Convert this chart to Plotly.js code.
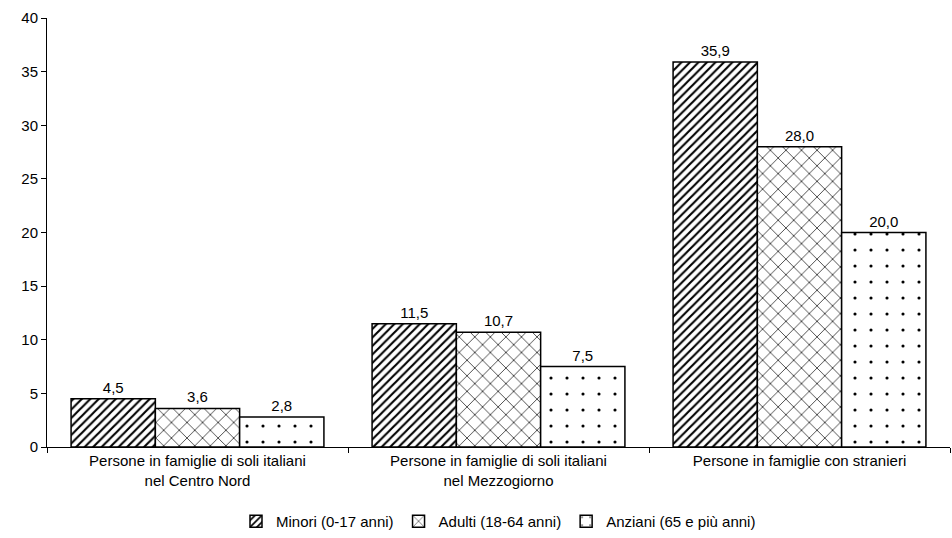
<!DOCTYPE html>
<html>
<head>
<meta charset="utf-8">
<script src="https://cdn.plot.ly/plotly-3.0.1.min.js"></script>
<style>body{margin:0;background:#fff}</style>
</head>
<body>
<div id="chart" style="width:952px;height:538px"></div>
<script>
// Categories and series
let categories = [
    'Persone in famiglie di soli italiani<br>nel Centro Nord',
    'Persone in famiglie di soli italiani<br>nel Mezzogiorno',
    'Persone in famiglie con stranieri'
];
let minori = [4.5, 11.5, 35.9];
let adulti = [3.6, 10.7, 28.0];
let anziani = [2.8, 7.5, 20.0];

let seriesNames = ['Minori (0-17 anni)', 'Adulti (18-64 anni)', 'Anziani (65 e più anni)'];
let seriesValues = [minori, adulti, anziani];
let patterns = [
    { shape: '/', size: 6, solidity: 0.35 },
    { shape: 'x', size: 11, solidity: 0.12 },
    { shape: '.', size: 16, solidity: 0.03 }
];

let traces = seriesValues.map((vals, i) => ({
    type: 'bar',
    name: seriesNames[i],
    x: categories,
    y: vals,
    text: vals.map(v => v.toFixed(1).replace('.', ',')),
    textposition: 'outside',
    cliponaxis: false,
    textfont: { size: 15, color: '#000' },
    marker: {
        color: '#fff',
        line: { color: '#000', width: 1.5 },
        pattern: Object.assign({ fgcolor: '#000', bgcolor: '#fff', fillmode: 'replace' }, patterns[i])
    },
    hoverinfo: 'none'
}));

let layout = {
    width: 952,
    height: 538,
    margin: { l: 47, r: 2, t: 18, b: 91 },
    barmode: 'group',
    bargap: 0.16,
    bargroupgap: 0,
    font: { family: 'Liberation Sans, Arial, sans-serif', size: 15, color: '#000' },
    plot_bgcolor: '#fff',
    paper_bgcolor: '#fff',
    showlegend: true,
    legend: {
        orientation: 'h',
        x: 0.5, xanchor: 'center',
        yref: 'container',
        y: 0.0, yanchor: 'bottom',
        font: { size: 15 },
        itemwidth: 30,
        traceorder: 'normal'
    },
    xaxis: {
        showline: true, linecolor: '#000', linewidth: 1,
        ticks: 'outside', tickson: 'boundaries', ticklen: 5, tickcolor: '#000',
        showgrid: false, zeroline: false
    },
    yaxis: {
        range: [0, 40], dtick: 5,
        showline: true, linecolor: '#000', linewidth: 1,
        ticks: 'outside', ticklen: 5, tickcolor: '#000',
        showgrid: false, zeroline: false
    }
};

Plotly.newPlot('chart', traces, layout, { displayModeBar: false, staticPlot: true });
</script>
</body>
</html>
